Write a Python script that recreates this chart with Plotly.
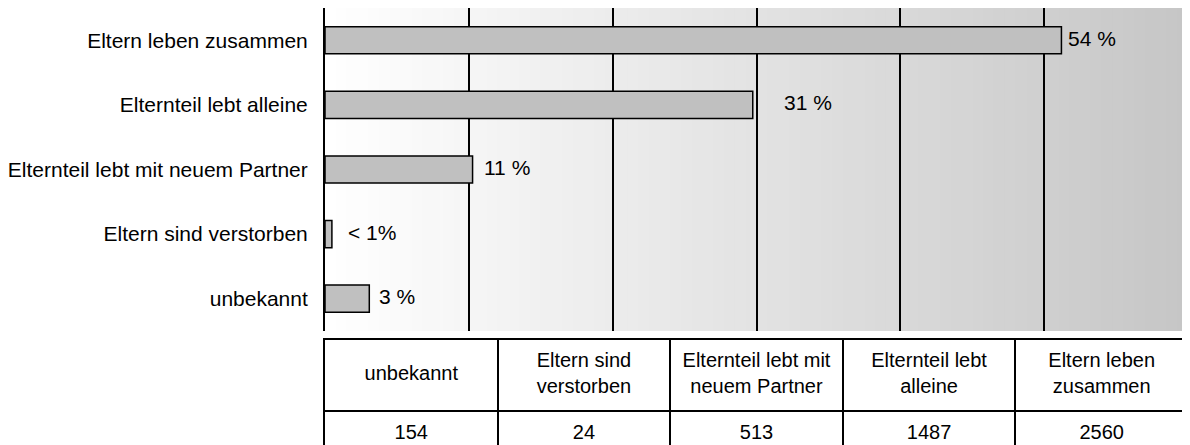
import plotly.graph_objects as go

# data, in table order (bottom bar first)
categories = ["unbekannt", "Eltern sind verstorben", "Elternteil lebt mit neuem Partner",
              "Elternteil lebt alleine", "Eltern leben zusammen"]
counts = [154, 24, 513, 1487, 2560]
pct_labels = ["3 %", "< 1%", "11 %", "31 %", "54 %"]
table_headers = ["unbekannt", "Eltern sind<br>verstorben", "Elternteil lebt mit<br>neuem Partner",
                 "Elternteil lebt<br>alleine", "Eltern leben<br>zusammen"]

x_max = 3000
grid_step = 500
label_shift = [8, 14, 9, 29, 5]
font = dict(family="Liberation Sans, Arial", size=21, color="black")
table_font = dict(family="Liberation Sans, Arial", size=20, color="black")

fig = go.Figure()

fig.add_trace(go.Bar(
    x=counts, y=categories, orientation="h", width=0.42,
    marker=dict(color="#c0c0c0", line=dict(color="black", width=1.5)),
    hoverinfo="skip", showlegend=False,
))

# table below the chart, drawn on its own axes
cols = list(range(len(categories)))
fig.add_trace(go.Scatter(
    x=[c + 0.5 for c in cols], y=[1.5] * len(cols), text=table_headers,
    mode="text", textfont=table_font, xaxis="x2", yaxis="y2",
    hoverinfo="skip", showlegend=False,
))
fig.add_trace(go.Scatter(
    x=[c + 0.5 for c in cols], y=[0.68] * len(cols), text=[str(v) for v in counts],
    mode="text", textfont=table_font, xaxis="x2", yaxis="y2",
    hoverinfo="skip", showlegend=False,
))

# percentage labels next to the bars
for cat, val, lab, sh in zip(categories, counts, pct_labels, label_shift):
    fig.add_annotation(x=val, y=cat, text=lab, showarrow=False, xanchor="left",
                       xshift=sh, yshift=2, font=font)

# white-to-grey background gradient; each band runs to the right edge so no seams show
steps = 80
shapes = []
for i in range(steps):
    g = round(255 - (255 - 198) * (i + 0.5) / steps)
    shapes.append(dict(type="rect", xref="x", yref="y domain",
                       x0=x_max * i / steps, x1=x_max, y0=0, y1=1,
                       fillcolor=f"rgb({g},{g},{g})", line=dict(width=0), layer="below"))

# the page body has an 8px margin, so the figure is 8px smaller than the window
fig.update_layout(
    width=1182, height=437,
    margin=dict(l=315, r=0, t=0, b=0),
    paper_bgcolor="white", plot_bgcolor="white",
    font=font, shapes=shapes,
    xaxis=dict(domain=[0, 1], range=[0, x_max],
               tickvals=list(range(grid_step, x_max, grid_step)),
               showticklabels=False, showgrid=True, gridcolor="black", gridwidth=1.5,
               zeroline=False, showline=False, ticks="", fixedrange=True),
    yaxis=dict(domain=[0.2609, 1], range=[-0.5, 4.5], showline=True, linecolor="black",
               linewidth=2, showgrid=False, ticks="", ticklabelstandoff=11,
               tickfont=font, fixedrange=True),
    xaxis2=dict(domain=[0, 1], range=[0, len(categories)], anchor="y2", side="top",
                tickvals=cols[1:], showticklabels=False, showgrid=True,
                gridcolor="black", gridwidth=1.5, zeroline=False,
                showline=True, linecolor="black", linewidth=1.5, ticks="", fixedrange=True),
    yaxis2=dict(domain=[0, 0.2403], range=[0.52, 2], anchor="x2",
                tickvals=[1], showticklabels=False, showgrid=True,
                gridcolor="black", gridwidth=1.5, zeroline=False,
                showline=True, mirror=True, linecolor="black", linewidth=1.5,
                ticks="", fixedrange=True),
)

fig.write_html("out.html")
